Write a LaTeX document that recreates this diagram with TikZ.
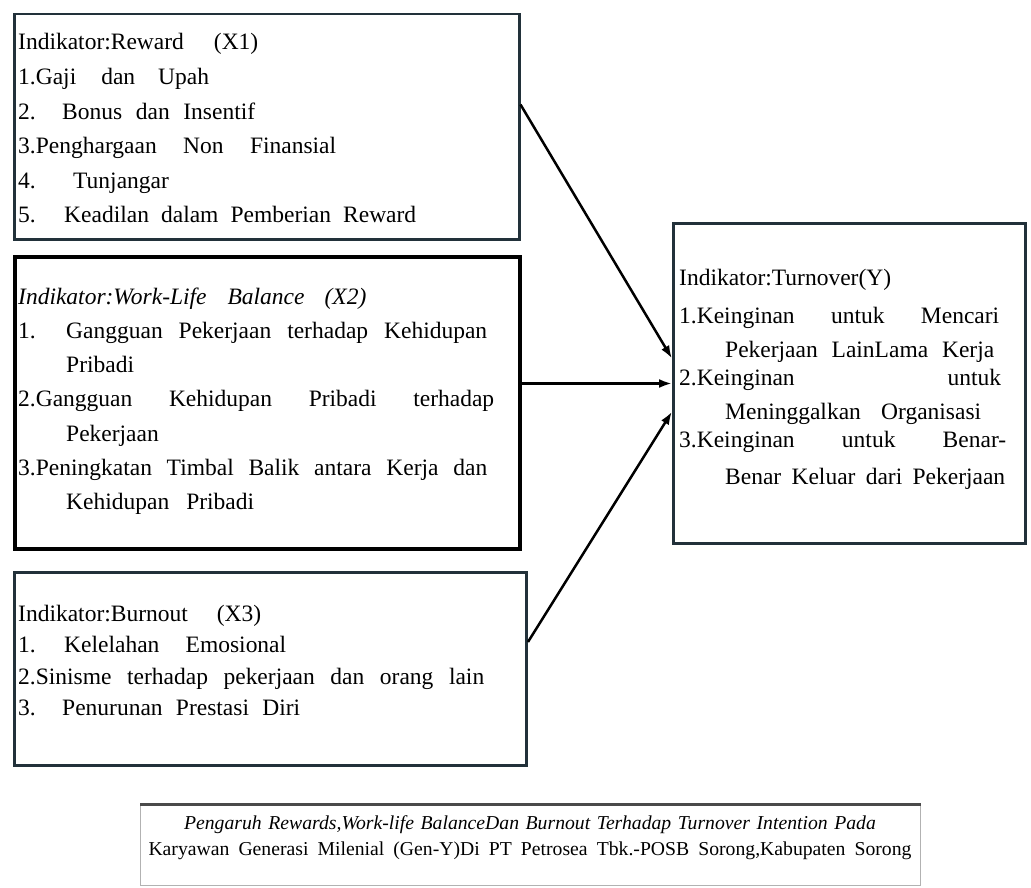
\documentclass[tikz,border=0pt]{standalone}
\usepackage{fontspec}
\setmainfont{Liberation Serif}
\usetikzlibrary{arrows.meta}

\definecolor{boxline}{HTML}{22313A}
\definecolor{capline}{HTML}{4A4A4A}

% a line whose word gaps are stretched to a given width
\newcommand{\spreadline}[2]{\makebox[#1][s]{\spaceskip=.25em plus 1fil\relax #2}}

\tikzset{
  indbox/.style={draw=boxline, line width=2.5pt, anchor=north west, inner sep=0pt},
  indtext/.style={anchor=base west, align=left, inner sep=0pt, text width=#1},
}

\begin{document}
\begin{tikzpicture}[x=1pt, y=-1pt, >={Latex[length=13pt,width=9pt]},
    font=\fontsize{23.5}{34.6}\selectfont]
  \useasboundingbox (0,0) rectangle (1031,888);

  % indikator boxes
  \node[indbox, minimum width=505pt, minimum height=225pt] (x1) at (13,13) {};
  \node[indbox, draw=black, line width=3.5pt, minimum width=505pt, minimum height=292pt] (x2) at (13,255) {};
  \node[indbox, line width=3pt, minimum width=512pt, minimum height=193pt] (x3) at (13,571) {};
  \node[indbox, line width=3pt, minimum width=352pt, minimum height=320pt] (y) at (672,222) {};

  \node[indtext=490pt] (x1t) at (18,50) {Indikator:Reward\hspace{30pt}(X1)\\
    1.Gaji\hspace{25pt}dan\hspace{23pt}Upah\\
    \makebox[44pt][l]{2.}\spreadline{193pt}{Bonus dan Insentif}\\
    \spreadline{318pt}{3.Penghargaan Non Finansial}\\
    \makebox[55pt][l]{4.}Tunjangar\\
    \makebox[46pt][l]{5.}\spreadline{352pt}{Keadilan dalam Pemberian Reward}};

  \node[indtext=480pt, font=\fontsize{23.5}{34.3}\selectfont] (x2t) at (18,304) {%
    \textit{Indikator:Work-Life\hspace{21pt}Balance\hspace{20pt}(X2)}\\
    \makebox[48pt][l]{1.}\spreadline{421pt}{Gangguan Pekerjaan terhadap Kehidupan}\\
    \hspace*{48pt}Pribadi\\
    \spreadline{476pt}{2.Gangguan Kehidupan Pribadi terhadap}\\
    \hspace*{48pt}Pekerjaan\\
    \spreadline{469pt}{3.Peningkatan Timbal Balik antara Kerja dan}\\
    \hspace*{48pt}Kehidupan\hspace{17pt}Pribadi};

  \node[indtext=490pt, font=\fontsize{23.5}{31.6}\selectfont] (x3t) at (18,621) {%
    Indikator:Burnout\hspace{29pt}(X3)\\
    \makebox[46pt][l]{1.}\spreadline{222pt}{Kelelahan Emosional}\\
    \spreadline{466pt}{2.Sinisme terhadap pekerjaan dan orang lain}\\
    \makebox[44pt][l]{3.}\spreadline{238pt}{Penurunan Prestasi Diri}};

  \node[indtext=335pt, font=\fontsize{23.5}{34}\selectfont] (yt) at (679,285) {%
    Indikator:Turnover(Y)\\[4pt]
    \spreadline{320pt}{1.Keinginan untuk Mencari}\\[0pt]
    \hspace*{46pt}\spreadline{269pt}{Pekerjaan LainLama Kerja}\\[-6pt]
    \spreadline{322pt}{2.Keinginan untuk}\\[0pt]
    \hspace*{46pt}\spreadline{256pt}{Meninggalkan Organisasi}\\[-6pt]
    \spreadline{327pt}{3.Keinginan untuk Benar-}\\[3pt]
    \hspace*{46pt}\spreadline{280pt}{Benar Keluar dari Pekerjaan}};

  % connectors
  \draw[->, line width=2.5pt] (x1.5) -- (y.172);
  \draw[->, line width=2.5pt] (y.west -| x2.east) -- (y.west);
  \draw[->, line width=2.5pt] (x3.6) -- (y.189);

  % caption
  \node[draw=black!30, line width=1pt, anchor=north west, inner sep=0pt,
    minimum width=780pt, minimum height=81pt] (cap) at (140,804) {};
  \draw[capline, line width=3pt] (cap.north west) -- (cap.north east);
  \node[anchor=base, align=center, inner sep=0pt, text width=800pt,
    font=\fontsize{19.7}{26.5}\selectfont] (capt) at (530,829) {%
    \textit{Pengaruh Rewards,Work-life BalanceDan Burnout Terhadap Turnover Intention Pada}\\
    \spreadline{763pt}{Karyawan Generasi Milenial (Gen-Y)Di PT Petrosea Tbk.-POSB Sorong,Kabupaten Sorong}};
\end{tikzpicture}
\end{document}
